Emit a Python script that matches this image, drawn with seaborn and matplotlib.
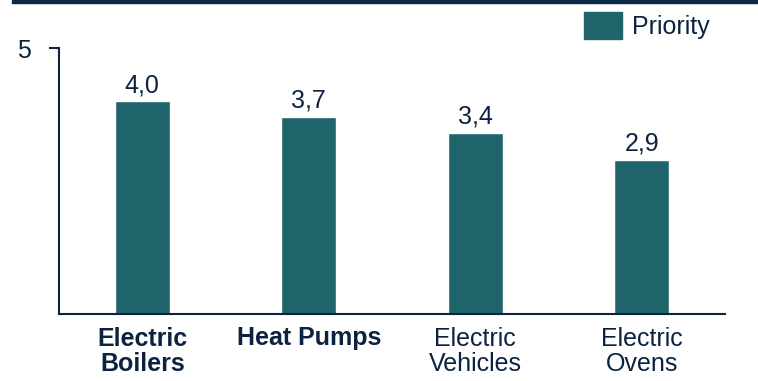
import matplotlib
matplotlib.use("Agg")
import matplotlib.pyplot as plt
import seaborn as sns
import pandas as pd
from matplotlib.patches import Rectangle

categories = ["Electric\nBoilers", "Heat Pumps", "Electric\nVehicles", "Electric\nOvens"]
values = [4.0, 3.7, 3.4, 2.9]
bold_flags = [True, True, False, False]
series_name = "Priority"

sns.set_theme(style="white")
plt.rcParams['font.family'] = ['Liberation Sans', 'DejaVu Sans']

BAR = "#1f646b"
TXT = "#0c2340"
FS = 18

fig = plt.figure(figsize=(7.58, 3.81), dpi=100)
ax = fig.add_axes([59/758, 1 - 314/381, (725-59)/758, (314-48)/381])

df = pd.DataFrame({"cat": categories, "val": values, "series": series_name})
sns.barplot(data=df, x="cat", y="val", color=BAR, width=0.33, ax=ax, saturation=1)

ax.set_ylim(0, 5)
ax.set_xlim(-0.5, 3.5)
ax.set_yticks([5])
ax.set_yticklabels(["5"], fontsize=FS, color=TXT)
ax.tick_params(axis='y', length=7, width=1.5, color=TXT, pad=13, left=True)
ax.tick_params(axis='x', length=0, pad=9)
ax.set_xlabel("")
ax.set_ylabel("")
for lbl, b in zip(ax.get_xticklabels(), bold_flags):
    lbl.set_fontsize(FS)
    lbl.set_color(TXT)
    lbl.set_fontweight("bold" if b else "normal")
    lbl.set_va("top")
    lbl.set_linespacing(1.1)

for s in ["top", "right"]:
    ax.spines[s].set_visible(False)
for s in ["left", "bottom"]:
    ax.spines[s].set_color(TXT)
    ax.spines[s].set_linewidth(1.5)

for p, v in zip(ax.patches, values):
    ax.annotate(f"{v:.1f}".replace(".", ","), (p.get_x() + p.get_width()/2, p.get_height()),
                xytext=(0, 3), textcoords="offset points", ha="center", va="bottom",
                fontsize=FS, color=TXT)

# legend
fig.patches.append(Rectangle((584/758, 1 - 39/381), 38/758, 27/381, transform=fig.transFigure,
                             color=BAR, figure=fig))
fig.text(632/758, 1 - 27/381, series_name, fontsize=FS, color=TXT, va="center", ha="left")

# top band
fig.patches.append(Rectangle((12/758, 1 - 3/381), 1, 3/381, transform=fig.transFigure,
                             color="#0a2745", figure=fig))

fig.savefig("out.png", dpi=100)
